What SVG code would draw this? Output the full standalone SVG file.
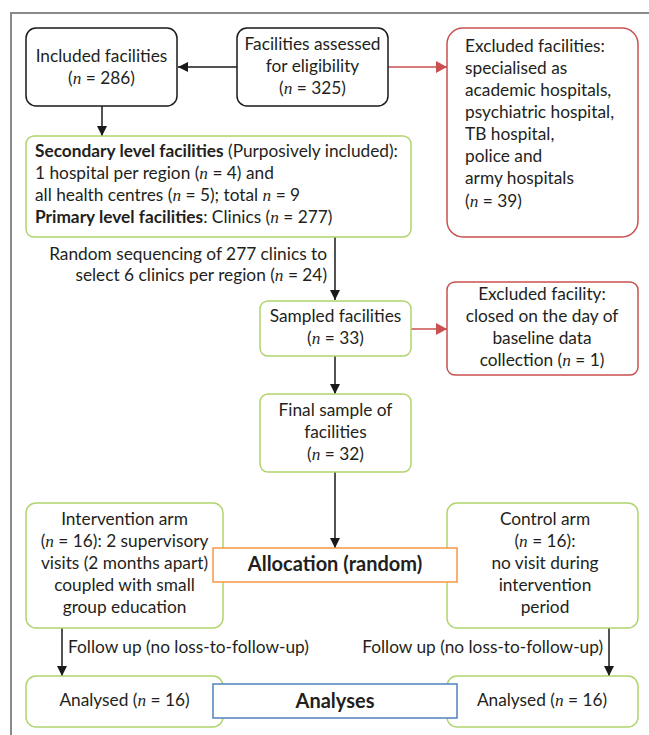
<svg xmlns="http://www.w3.org/2000/svg" width="649" height="735" viewBox="0 0 649 735">
<defs>
<style>
.t{font-family:Lato,"Liberation Sans",sans-serif;font-size:17.3px;fill:#231f20}
.c{text-anchor:middle}
.r{text-anchor:end}
.b{font-weight:bold}
.h{font-size:20px}
.n{font-family:"Liberation Serif",serif;font-style:italic}
.k{fill:#fff;stroke:#1a1a1a;stroke-width:1.5}
.g{fill:#fff;stroke:#b0d46e;stroke-width:1.5}
.rd{fill:#fff;stroke:#c9504f;stroke-width:1.5}
.o{fill:#fff;stroke:#f79646;stroke-width:1.5}
.bl{fill:#fff;stroke:#4f81bd;stroke-width:1.5}
.lk{stroke:#1a1a1a;stroke-width:1.5;fill:none}
.lr{stroke:#c9504f;stroke-width:1.5;fill:none}
</style>
<marker id="ak" viewBox="0 0 10 10" refX="10" refY="5" markerWidth="10" markerHeight="10" markerUnits="userSpaceOnUse" orient="auto">
<path d="M0,0 L10,5 L0,10 Z" fill="#1a1a1a"/>
</marker>
<marker id="ar" viewBox="0 0 11 12" refX="11" refY="6" markerWidth="11" markerHeight="12" markerUnits="userSpaceOnUse" orient="auto">
<path d="M0,0 L11,6 L0,12 Z" fill="#c9504f"/>
</marker>
</defs>
<rect width="649" height="735" fill="#fff"/>
<path d="M11,735 V13 H649" fill="none" stroke="#8a8a8a" stroke-width="2"/>

<g id="connectors">
<line class="lk" x1="237" y1="67" x2="178" y2="67" marker-end="url(#ak)"/>
<line class="lr" x1="388" y1="67" x2="447" y2="67" marker-end="url(#ar)"/>
<line class="lk" x1="102" y1="106" x2="102" y2="136" marker-end="url(#ak)"/>
<line class="lk" x1="335" y1="237" x2="335" y2="300" marker-end="url(#ak)"/>
<line class="lr" x1="411" y1="329" x2="447" y2="329" marker-end="url(#ar)"/>
<line class="lk" x1="335" y1="356" x2="335" y2="394" marker-end="url(#ak)"/>
<line class="lk" x1="335" y1="472" x2="335" y2="548" marker-end="url(#ak)"/>
<line class="lk" x1="62" y1="628" x2="62" y2="676" marker-end="url(#ak)"/>
<line class="lk" x1="609" y1="628" x2="609" y2="676" marker-end="url(#ak)"/>
<text class="t r" x="327" y="260">Random sequencing of 277 clinics to</text>
<text class="t r" x="327" y="281">select 6 clinics per region (<tspan class="n">n</tspan> = 24)</text>
<text class="t" x="68" y="653">Follow up (no loss-to-follow-up)</text>
<text class="t r" x="603" y="653">Follow up (no loss-to-follow-up)</text>
</g>

<g id="included">
<rect class="k" x="26" y="28" width="151" height="78" rx="10"/>
<text class="t c" x="101.5" y="62">Included facilities</text>
<text class="t c" x="101.5" y="84">(<tspan class="n">n</tspan> = 286)</text>
</g>

<g id="assessed">
<rect class="k" x="237" y="28" width="151" height="78" rx="10"/>
<text class="t c" x="312.5" y="50">Facilities assessed</text>
<text class="t c" x="312.5" y="72">for eligibility</text>
<text class="t c" x="312.5" y="94">(<tspan class="n">n</tspan> = 325)</text>
</g>

<g id="excluded">
<rect class="rd" x="447" y="28" width="191" height="209" rx="16"/>
<text class="t" x="465" y="52">Excluded facilities:</text>
<text class="t" x="465" y="74">specialised as</text>
<text class="t" x="465" y="96">academic hospitals,</text>
<text class="t" x="465" y="118">psychiatric hospital,</text>
<text class="t" x="465" y="140">TB hospital,</text>
<text class="t" x="465" y="162">police and</text>
<text class="t" x="465" y="184">army hospitals</text>
<text class="t" x="465" y="207">(<tspan class="n">n</tspan> = 39)</text>
</g>

<g id="secondary">
<rect class="g" x="26" y="136" width="385" height="101" rx="8"/>
<text class="t" x="35" y="157"><tspan class="b">Secondary level facilities</tspan> (Purposively included):</text>
<text class="t" x="35" y="179">1 hospital per region (<tspan class="n">n</tspan> = 4) and</text>
<text class="t" x="35" y="201">all health centres (<tspan class="n">n</tspan> = 5); total <tspan class="n">n</tspan> = 9</text>
<text class="t" x="35" y="223"><tspan class="b">Primary level facilities</tspan>: Clinics (<tspan class="n">n</tspan> = 277)</text>
</g>

<g id="sampled">
<rect class="g" x="260" y="301" width="151" height="55" rx="8"/>
<text class="t c" x="335.5" y="322">Sampled facilities</text>
<text class="t c" x="335.5" y="344">(<tspan class="n">n</tspan> = 33)</text>
</g>

<g id="excluded-facility">
<rect class="rd" x="447" y="282" width="191" height="93" rx="8"/>
<text class="t c" x="542" y="300">Excluded facility:</text>
<text class="t c" x="542" y="322">closed on the day of</text>
<text class="t c" x="542" y="344">baseline data</text>
<text class="t c" x="542" y="366">collection (<tspan class="n">n</tspan> = 1)</text>
</g>

<g id="final">
<rect class="g" x="260" y="394" width="151" height="78" rx="8"/>
<text class="t c" x="335.5" y="416">Final sample of</text>
<text class="t c" x="335.5" y="438">facilities</text>
<text class="t c" x="335.5" y="460">(<tspan class="n">n</tspan> = 32)</text>
</g>

<g id="intervention">
<rect class="g" x="26" y="503" width="197" height="125" rx="10"/>
<text class="t c" x="124.5" y="525">Intervention arm</text>
<text class="t c" x="124.5" y="547">(<tspan class="n">n</tspan> = 16): 2 supervisory</text>
<text class="t c" x="124.5" y="569">visits (2 months apart)</text>
<text class="t c" x="124.5" y="591">coupled with small</text>
<text class="t c" x="124.5" y="613">group education</text>
</g>

<g id="control">
<rect class="g" x="447" y="503" width="191" height="125" rx="10"/>
<text class="t c" x="545" y="525">Control arm</text>
<text class="t c" x="545" y="547">(<tspan class="n">n</tspan> = 16):</text>
<text class="t c" x="545" y="569">no visit during</text>
<text class="t c" x="545" y="591">intervention</text>
<text class="t c" x="545" y="613">period</text>
</g>

<g id="allocation">
<rect class="o" x="213" y="548" width="244" height="34"/>
<text class="t c b h" x="335" y="571">Allocation (random)</text>
</g>

<g id="analysed-left">
<rect class="g" x="26" y="676" width="197" height="51" rx="10"/>
<text class="t c" x="124.5" y="706">Analysed (<tspan class="n">n</tspan> = 16)</text>
</g>

<g id="analysed-right">
<rect class="g" x="447" y="676" width="191" height="51" rx="10"/>
<text class="t c" x="542" y="706">Analysed (<tspan class="n">n</tspan> = 16)</text>
</g>

<g id="analyses">
<rect class="bl" x="213" y="684" width="244" height="34"/>
<text class="t c b h" x="335" y="708">Analyses</text>
</g>
</svg>
